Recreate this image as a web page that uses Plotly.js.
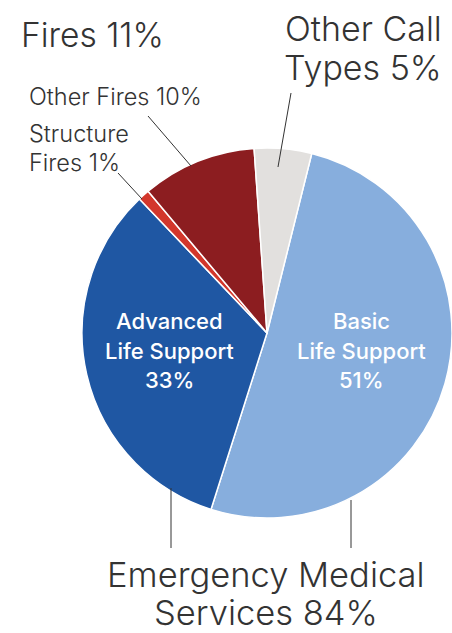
<!DOCTYPE html>
<html><head><meta charset="utf-8">
<script src="https://cdn.plot.ly/plotly-3.0.1.min.js"></script>
<style>html,body{margin:0;padding:0;background:#fff;overflow:hidden}#chart{width:452px;height:633px}</style>
</head><body><div id="chart"></div>
<script>
// data
const sliceLabels = ["Basic Life Support", "Advanced Life Support", "Structure Fires", "Other Fires", "Other Call Types"];
const sliceValues = [51, 33, 1, 10, 5];
const sliceColors = ["#87aedd", "#1f57a3", "#d3372c", "#8c1d20", "#e2e0de"];
const innerLabels = ["Basic<br>Life Support<br>51%", "Advanced<br>Life Support<br>33%"];
const groupLabels = ["Fires 11%", "Other Call<br>Types 5%", "Emergency Medical<br>Services 84%"];
const smallLabels = ["Other Fires 10%", "Structure<br>Fires 1%"];

const W = 452, H = 633;
const px = x => x / W, py = y => 1 - y / H;
const FONT = "Inter, 'Open Sans', sans-serif";
const TXT = "#333333";

const cx = 267, cy = 333, r = 186;

const annotations = [];
// multi-line label: one annotation per line, y = middle of first line, dy = line step
function label(text, x, y, dy, size, opts) {
  text.split("<br>").forEach((line, i) => {
    annotations.push(Object.assign({
      xref: "paper", yref: "paper", showarrow: false, xanchor: "center", yanchor: "middle",
      text: line, x: px(x), y: py(y + i * dy),
      font: {size: size, color: TXT, family: FONT, weight: 300}
    }, opts || {}));
  });
}
const white = {font: {size: 22, color: "#fff", family: FONT, weight: 500}};
label(innerLabels[0], 361, 321, 29.5, 22, white);
label(innerLabels[1], 169, 321, 29.5, 22, white);
label(groupLabels[0], 92.5, 35, 0, 33.5);
label(groupLabels[1], 363, 28.5, 38.5, 34);
label(groupLabels[2], 266, 574, 38.5, 34.5);
label(smallLabels[0], 27, 96.5, 0, 23.5, {xanchor: "left"});
label(smallLabels[1], 27, 133, 29, 23.5, {xanchor: "left"});

const seg = (x0, y0, x1, y1) => ({type: "line", xref: "paper", yref: "paper",
  x0: px(x0), y0: py(y0), x1: px(x1), y1: py(y1), line: {color: TXT, width: 1}});
const shapes = [
  seg(148, 116, 191, 166),
  seg(118, 173, 142, 199),
  seg(291, 93, 278, 167),
  seg(171, 488, 171, 548),
  seg(351, 500, 351, 548)
];

const trace = {
  type: "pie",
  labels: sliceLabels,
  values: sliceValues,
  sort: false,
  direction: "clockwise",
  rotation: 14,
  marker: {colors: sliceColors, line: {color: "#ffffff", width: 1.5}},
  textinfo: "none",
  hoverinfo: "label+percent",
  domain: {x: [px(cx - 185), px(cx + 185)], y: [py(cy + r), py(cy - r)]},
  showlegend: false
};

Plotly.newPlot("chart", [trace], {
  width: W, height: H,
  margin: {l: 0, r: 0, t: 0, b: 0},
  paper_bgcolor: "#fff",
  showlegend: false,
  annotations: annotations,
  shapes: shapes
}, {displayModeBar: false, staticPlot: true});
</script></body></html>
